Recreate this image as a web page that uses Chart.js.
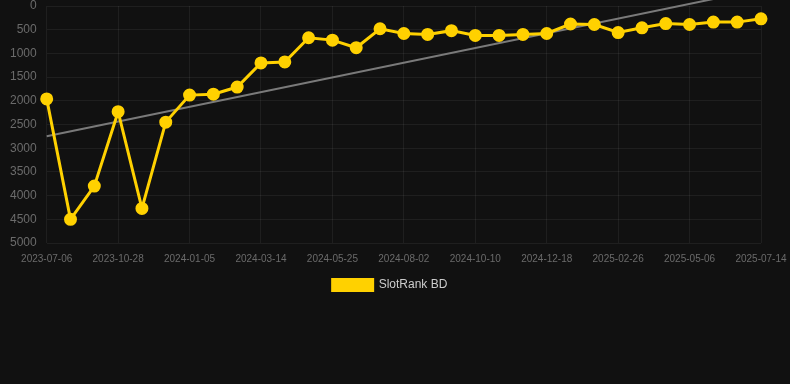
<!DOCTYPE html>
<html>
<head>
<meta charset="utf-8">
<script src="https://cdn.jsdelivr.net/npm/chart.js@4"></script>
<style>
  html, body { margin: 0; padding: 0; background: #111111; }
  #wrap { width: 790px; height: 384px; position: relative; }
</style>
</head>
<body>
<div id="wrap"><canvas id="rankChart"></canvas></div>
<script>
// ----- Data -----
const dates = [
  "2023-07-06", "2023-08-13", "2023-09-20", "2023-10-28", "2023-11-20",
  "2023-12-13", "2024-01-05", "2024-01-28", "2024-02-20", "2024-03-14",
  "2024-04-07", "2024-05-01", "2024-05-25", "2024-06-17", "2024-07-10",
  "2024-08-02", "2024-08-25", "2024-09-17", "2024-10-10", "2024-11-02",
  "2024-11-25", "2024-12-18", "2025-01-10", "2025-02-02", "2025-02-26",
  "2025-03-21", "2025-04-13", "2025-05-06", "2025-05-29", "2025-06-21",
  "2025-07-14"
];
const rankBD = [
  1960, 4500, 3800, 2230, 4270, 2450, 1880, 1860, 1710, 1200,
  1180, 670, 720, 880, 480, 580, 600, 520, 620, 620,
  600, 580, 380, 390, 560, 460, 370, 390, 340, 340,
  270
];
// trend line: first and last point only
const trendStart = 2750;
const trendEnd = -355;
const trendData = dates.map((_, i) =>
  i === 0 ? trendStart : i === dates.length - 1 ? trendEnd : null
);

const yTicks = { min: 0, max: 5000, step: 500 };
const labelEvery = 3;

const YELLOW = "#FFD100";
const GRID = "rgba(255,255,255,0.06)";

Chart.defaults.font.family = "'Liberation Sans', Arial, sans-serif";

// ----- Chart -----
const ctx = document.getElementById("rankChart").getContext("2d");
new Chart(ctx, {
  type: "line",
  data: {
    labels: dates,
    datasets: [
      {
        label: "SlotRank BD",
        data: rankBD,
        borderColor: YELLOW,
        backgroundColor: YELLOW,
        borderWidth: 3,
        pointRadius: 5,
        pointBackgroundColor: YELLOW,
        pointBorderColor: YELLOW,
        tension: 0
      },
      {
        label: "trend",
        data: trendData,
        borderColor: "#7a7a7a",
        borderWidth: 2,
        pointRadius: 0,
        spanGaps: true,
        clip: false
      }
    ]
  },
  options: {
    animation: false,
    responsive: true,
    maintainAspectRatio: false,
    layout: {
      autoPadding: false,
      padding: { bottom: 83, left: 0, right: 10, top: 0 }
    },
    plugins: {
      tooltip: { enabled: false },
      legend: {
        position: "bottom",
        labels: {
          color: "#cccccc",
          font: { size: 12 },
          boxWidth: 40,
          boxHeight: 11,
          filter: (item) => item.text !== "trend"
        }
      }
    },
    scales: {
      x: {
        offset: false,
        ticks: {
          autoSkip: false,
          maxRotation: 0,
          color: "#6b6b6b",
          font: { size: 10 },
          padding: 10,
          callback: function (val, i) {
            return i % labelEvery === 0 ? this.getLabelForValue(val) : "";
          }
        },
        grid: {
          color: (c) => (c.index % labelEvery === 0 ? GRID : "transparent"),
          drawTicks: false
        },
        border: { display: false },
        afterFit: (s) => {
          s.height = 26;
          s.paddingLeft = 0;
          s.paddingRight = 29;
        }
      },
      y: {
        reverse: true,
        min: yTicks.min,
        max: yTicks.max,
        ticks: {
          stepSize: yTicks.step,
          color: "#6b6b6b",
          font: { size: 12 },
          padding: 10,
          callback: (v) => String(v)
        },
        grid: { color: GRID, drawTicks: false },
        border: { display: false },
        afterFit: (s) => {
          s.paddingTop = 6;
          s.paddingBottom = 6;
        }
      }
    }
  }
});
</script>
</body>
</html>
